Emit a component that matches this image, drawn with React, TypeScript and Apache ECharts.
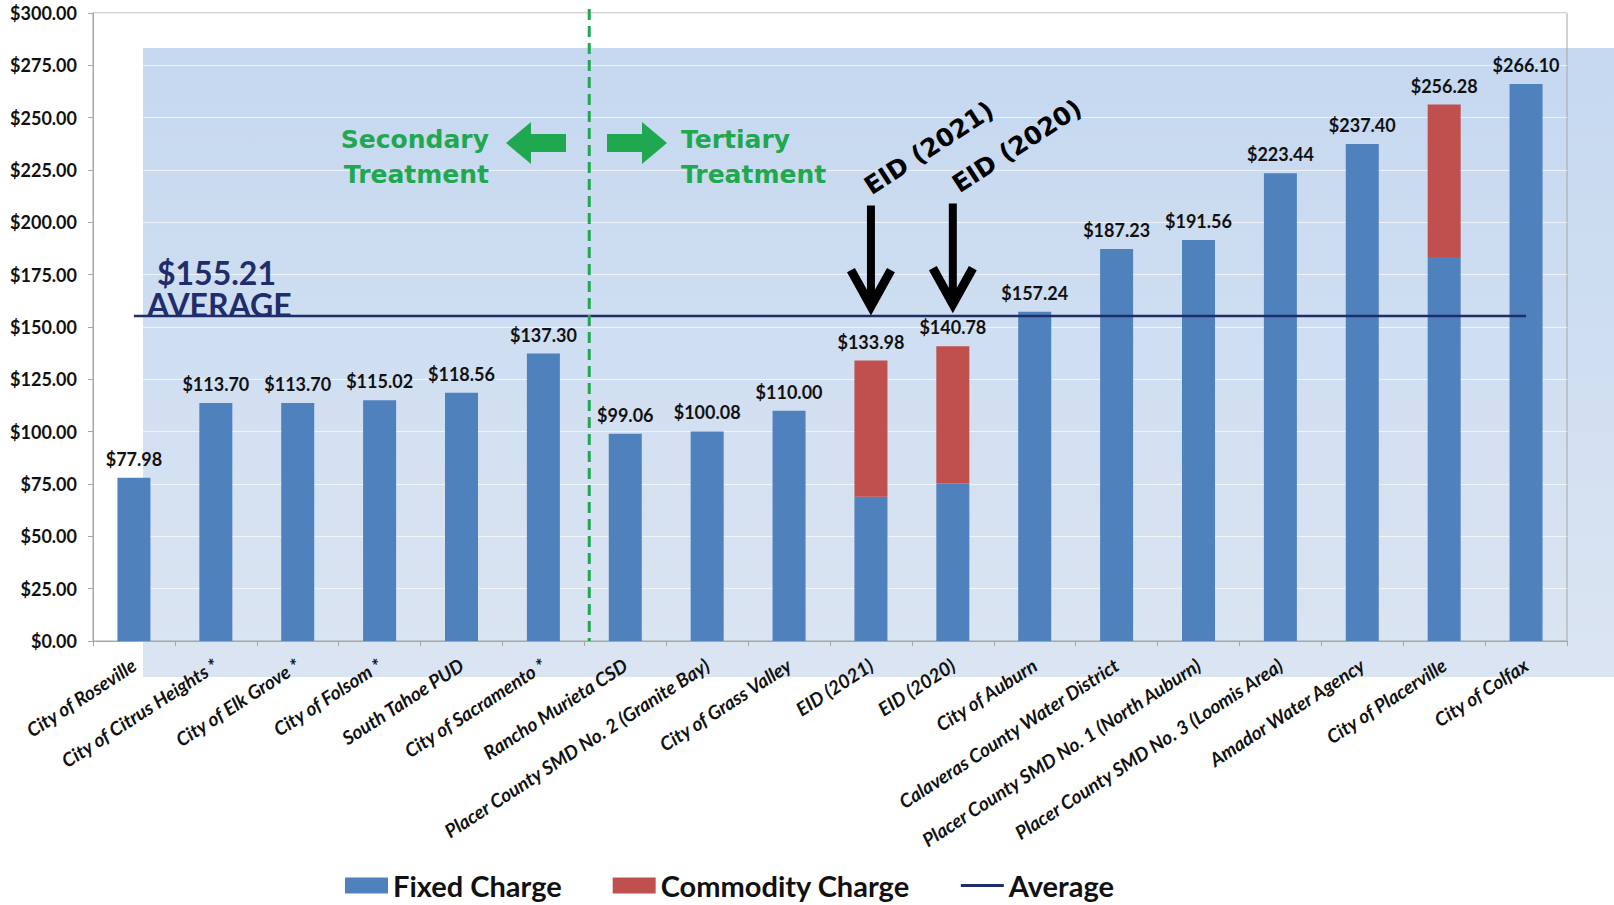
import React, { useEffect, useRef } from "react";
import * as echarts from "echarts";

const categories = [
  "City of Roseville",
  "City of Citrus Heights *",
  "City of Elk Grove *",
  "City of Folsom *",
  "South Tahoe PUD",
  "City of Sacramento *",
  "Rancho Murieta CSD",
  "Placer County SMD No. 2 (Granite Bay)",
  "City of Grass Valley",
  "EID (2021)",
  "EID (2020)",
  "City of Auburn",
  "Calaveras County Water District",
  "Placer County SMD No. 1 (North Auburn)",
  "Placer County SMD No. 3 (Loomis Area)",
  "Amador Water Agency",
  "City of Placerville",
  "City of Colfax",
];

const totals = [77.98, 113.7, 113.7, 115.02, 118.56, 137.3, 99.06, 100.08, 110.0, 133.98, 140.78, 157.24, 187.23, 191.56, 223.44, 237.4, 256.28, 266.1];
const commodity = [0, 0, 0, 0, 0, 0, 0, 0, 0, 65.08, 65.58, 0, 0, 0, 0, 0, 72.88, 0];
const fixedCharge = totals.map((t, i) => Math.round((t - commodity[i]) * 100) / 100);
const averageValue = 155.21;
const yTicks = { min: 0, max: 300, interval: 25 };

const BLUE = "#4f81bd";
const RED = "#c0504d";
const NAVY = "#1f2d6b";
const GREEN = "#1fa84f";
const BASE_FONT = "Lato, 'Open Sans', sans-serif";

export default function App() {
  const ref = useRef<HTMLDivElement>(null);

  useEffect(() => {
    if (!ref.current) return;
    const chart = echarts.init(ref.current, null, { renderer: "svg" });
    const labelStyle = {
      show: true,
      position: "top" as const,
      distance: 10,
      fontFamily: BASE_FONT,
      fontWeight: "bold" as const,
      fontSize: 18,
      color: "#111",
    };
    const option: any = {
      animation: false,
      backgroundColor: "#ffffff",
      textStyle: { fontFamily: BASE_FONT },
      grid: {
        left: 93,
        right: 47,
        top: 13,
        bottom: 264,
        show: true,
        borderColor: "#a6a6a6",
        borderWidth: 1,
        backgroundColor: "transparent",
      },
      legend: {
        left: 340,
        top: 866,
        itemWidth: 43,
        itemHeight: 16,
        itemGap: 51,
        textStyle: { fontFamily: BASE_FONT, fontWeight: "bold", fontSize: 29, color: "#111" },
        data: [
          { name: "Fixed Charge", icon: "rect" },
          { name: "Commodity Charge", icon: "rect" },
          { name: "Average", icon: "path://M0,0 H43 V3 H0 Z" },
        ],
      },
      xAxis: {
        type: "category",
        data: categories,
        axisLine: { lineStyle: { color: "#a6a6a6", width: 1 } },
        axisTick: { show: true, alignWithLabel: false, length: 5, lineStyle: { color: "#a6a6a6" } },
        axisLabel: {
          interval: 0,
          rotate: 33,
          margin: 22,
          fontFamily: BASE_FONT,
          fontStyle: "italic",
          fontWeight: "bold",
          fontSize: 19,
          color: "#111",
        },
      },
      yAxis: {
        type: "value",
        min: yTicks.min,
        max: yTicks.max,
        interval: yTicks.interval,
        axisLine: { show: true, lineStyle: { color: "#a6a6a6", width: 1 } },
        axisTick: { show: true, length: 5, lineStyle: { color: "#a6a6a6" } },
        splitLine: { show: true, lineStyle: { color: "rgba(255,255,255,0.65)", width: 1 } },
        axisLabel: {
          margin: 16,
          fontFamily: BASE_FONT,
          fontWeight: "bold",
          fontSize: 18,
          color: "#111",
          formatter: (v: number) => "$" + v.toFixed(2),
        },
      },
      series: [
        {
          name: "Fixed Charge",
          type: "bar",
          stack: "total",
          barWidth: 33,
          itemStyle: { color: BLUE },
          data: fixedCharge.map((v, i) => ({
            value: v,
            label: { ...labelStyle, show: commodity[i] === 0, formatter: () => "$" + totals[i].toFixed(2) },
          })),
          z: 3,
        },
        {
          name: "Commodity Charge",
          type: "bar",
          stack: "total",
          barWidth: 33,
          itemStyle: { color: RED },
          data: commodity.map((v, i) => ({
            value: v === 0 ? "-" : v,
            label: { ...labelStyle, show: v !== 0, formatter: () => "$" + totals[i].toFixed(2) },
          })),
          z: 3,
        },
        {
          name: "Average",
          type: "line",
          symbol: "none",
          lineStyle: { color: NAVY, width: 2.5 },
          itemStyle: { color: NAVY },
          data: categories.map(() => averageValue),
          z: 5,
        },
      ],
    };
    chart.setOption(option);

    const px = (i: number, v: number) => chart.convertToPixel({ gridIndex: 0 }, [i, v]) as number[];
    const p5 = px(5, 0);
    const p6 = px(6, 0);
    const dashX = p5[0] + 0.56 * (p6[0] - p5[0]);
    const topY = px(0, 300)[1];
    const a1 = px(9, 208);
    const a1tip = px(9, 159);
    const a2 = px(10, 209);
    const a2tip = px(10, 160);
    const avgY = px(0, averageValue)[1];

    const blackArrow = (x: number, y0: number, y1: number) => [
      { type: "line", z: 20, shape: { x1: x, y1: y0, x2: x, y2: y1 - 6 }, style: { stroke: "#000", lineWidth: 8 } },
      {
        type: "polyline",
        z: 20,
        shape: { points: [[x - 20, y1 - 38], [x, y1 - 2], [x + 20, y1 - 38]] },
        style: { stroke: "#000", lineWidth: 9, fill: null, lineJoin: "miter" },
      },
    ];

    const greenText = (text: string, x: number, y: number, align: string) => ({
      type: "text",
      z: 20,
      x,
      y,
      style: {
        text,
        fill: GREEN,
        font: "bold 25px 'DejaVu Sans', sans-serif",
        align,
        verticalAlign: "middle",
      },
    });

    chart.setOption({
      graphic: [
        {
          type: "rect",
          z: -10,
          silent: true,
          shape: { x: 143, y: 48, width: 1614 - 143, height: 677 - 48 },
          style: {
            fill: new echarts.graphic.LinearGradient(0, 0, 0, 1, [
              { offset: 0, color: "#c5d8f0" },
              { offset: 1, color: "#dbe5f2" },
            ]),
          },
        },
        {
          type: "line",
          z: 15,
          shape: { x1: dashX, y1: topY - 4, x2: dashX, y2: px(0, 0)[1] },
          style: { stroke: GREEN, lineWidth: 3, lineDash: [11, 6] },
        },
        greenText("Secondary", 489, 139, "right"),
        greenText("Treatment", 489, 174, "right"),
        greenText("Tertiary", 681, 139, "left"),
        greenText("Treatment", 681, 174, "left"),
        {
          type: "polygon",
          z: 20,
          shape: { points: [[506, 143], [531, 122], [531, 134], [566, 134], [566, 152], [531, 152], [531, 164]] },
          style: { fill: GREEN },
        },
        {
          type: "polygon",
          z: 20,
          shape: { points: [[667, 143], [642, 122], [642, 134], [607, 134], [607, 152], [642, 152], [642, 164]] },
          style: { fill: GREEN },
        },
        {
          type: "text",
          z: 20,
          x: 929,
          y: 148,
          rotation: (33 * Math.PI) / 180,
          style: { text: "EID (2021)", fill: "#000", font: "bold 25px 'DejaVu Sans', sans-serif", align: "center", verticalAlign: "middle" },
        },
        {
          type: "text",
          z: 20,
          x: 1017,
          y: 146,
          rotation: (33 * Math.PI) / 180,
          style: { text: "EID (2020)", fill: "#000", font: "bold 25px 'DejaVu Sans', sans-serif", align: "center", verticalAlign: "middle" },
        },
        ...blackArrow(a1[0], a1[1], a1tip[1]),
        ...blackArrow(a2[0], a2[1], a2tip[1]),
        {
          type: "text",
          z: 20,
          x: 147,
          y: avgY - 28,
          style: {
            text: "{a|$155.21}\n{b|AVERAGE}",
            fill: NAVY,
            align: "left",
            verticalAlign: "middle",
            rich: {
              a: { fontFamily: "Lato, sans-serif", fontWeight: "bold", fontSize: 32, lineHeight: 32, padding: [0, 0, 0, 10], fill: NAVY },
              b: { fontFamily: "Lato, sans-serif", fontWeight: "bold", fontSize: 32, lineHeight: 32, fill: NAVY },
            },
          },
        },
      ],
    });

    return () => chart.dispose();
  }, []);

  return <div ref={ref} style={{ position: "fixed", left: 0, top: 0, width: "100vw", height: "100vh" }} />;
}
